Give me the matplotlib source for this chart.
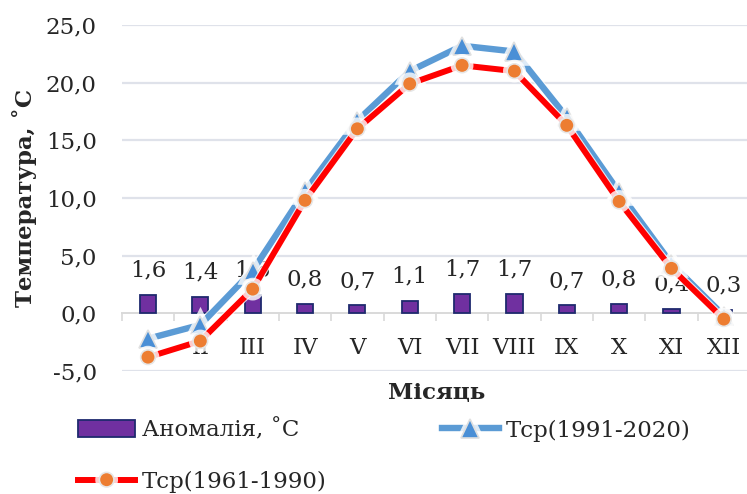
import matplotlib
matplotlib.use("Agg")
import matplotlib.pyplot as plt
import matplotlib.patheffects as pe
from matplotlib.ticker import FixedLocator, FuncFormatter

months = ["I", "II", "III", "IV", "V", "VI", "VII", "VIII", "IX", "X", "XI", "XII"]
anomaly = [1.6, 1.4, 1.6, 0.8, 0.7, 1.1, 1.7, 1.7, 0.7, 0.8, 0.4, 0.3]
t_1991_2020 = [-2.2, -1.0, 3.7, 10.6, 16.7, 21.0, 23.2, 22.7, 17.0, 10.5, 4.3, -0.2]
t_1961_1990 = [-3.8, -2.4, 2.1, 9.8, 16.0, 19.9, 21.5, 21.0, 16.3, 9.7, 3.9, -0.5]
yticks = [-5, 0, 5, 10, 15, 20, 25]

FONT = ["DejaVu Serif", "Liberation Serif"]
FS = 16.5
plt.rcParams["font.family"] = FONT

fig = plt.figure(figsize=(7.47, 4.94), dpi=100)
W, H = 747, 494
left_px, right_px, top_px, bot_px = 121.8, 750.0, 25.0, 371.0
ax = fig.add_axes([left_px / W, (H - bot_px) / H, (right_px - left_px) / W, (bot_px - top_px) / H])

x = list(range(len(months)))

# grid
for yv in yticks:
    if yv != 0:
        ax.axhline(yv, color="#dfe2ea", lw=1.6, zorder=0)

bars = ax.bar(x, anomaly, width=0.31, color="#7030a0", edgecolor="#1f2a6e",
              linewidth=1.3, zorder=2, label="Аномалія, ˚С")

for xi, v in zip(x, anomaly):
    ax.annotate(f"{v:.1f}".replace(".", ","), (xi, v), xytext=(0, 17.5),
                textcoords="offset points", ha="center", va="center",
                fontsize=FS, color="#262626", zorder=3)

glow = [pe.Stroke(linewidth=6.2, foreground="white", alpha=0.8), pe.Normal()]
l_blue, = ax.plot(x, t_1991_2020, color="#5b9bd5", lw=4.6, marker="^", markersize=13,
                  markerfacecolor="#4a8fd6", markeredgecolor="#e0e0e0", markeredgewidth=1.2,
                  zorder=4, label="Тср(1991-2020)", path_effects=glow)
l_red, = ax.plot(x, t_1961_1990, color="#ff0000", lw=4.3, marker="o", markersize=10.5,
                 markerfacecolor="#ed7d31", markeredgecolor="#e6e6e6", markeredgewidth=1.2,
                 zorder=5, label="Тср(1961-1990)",
                 path_effects=[pe.Stroke(linewidth=5.9, foreground="white", alpha=0.8), pe.Normal()])

ax.set_xlim(-0.5, len(months) - 0.5)
ax.set_ylim(-5, 25)

for s in ["top", "right", "left"]:
    ax.spines[s].set_visible(False)
ax.spines["bottom"].set_position(("data", 0))
ax.spines["bottom"].set_color("#d9d9d9")
ax.spines["bottom"].set_linewidth(1.4)
ax.spines["bottom"].set_zorder(1)

ax.set_xticks(x)
ax.set_xticklabels(months, fontsize=FS, color="#262626")
ax.tick_params(axis="x", which="major", length=0, pad=17)
ax.xaxis.set_minor_locator(FixedLocator([i - 0.5 for i in range(len(months) + 1)]))
ax.tick_params(axis="x", which="minor", length=6, width=1.2, color="#d9d9d9", direction="out")

ax.set_yticks(yticks)
ax.yaxis.set_major_formatter(FuncFormatter(lambda v, p: f"{v:.1f}".replace(".", ",")))
ax.tick_params(axis="y", length=0, pad=18, labelsize=FS, labelcolor="#262626")

fig.text(24 / W, (H - 198) / H, "Температура, ˚С", rotation=90, ha="center", va="center",
         fontsize=FS, fontweight="bold", color="#262626")
fig.text(437 / W, (H - 393) / H, "Місяць", ha="center", va="center",
         fontsize=FS, fontweight="bold", color="#262626")

leg = fig.legend([bars, l_red, l_blue], ["Аномалія, ˚С", "Тср(1961-1990)", "Тср(1991-2020)"],
                 ncol=2, loc="upper left", bbox_to_anchor=(78 / W, (H - 419) / H),
                 frameon=False, fontsize=FS, handlelength=2.5, handletextpad=0.3,
                 columnspacing=5.0, labelspacing=1.27, borderpad=0, borderaxespad=0)
for t in leg.get_texts():
    t.set_color("#262626")

fig.savefig("out.png", dpi=100)
